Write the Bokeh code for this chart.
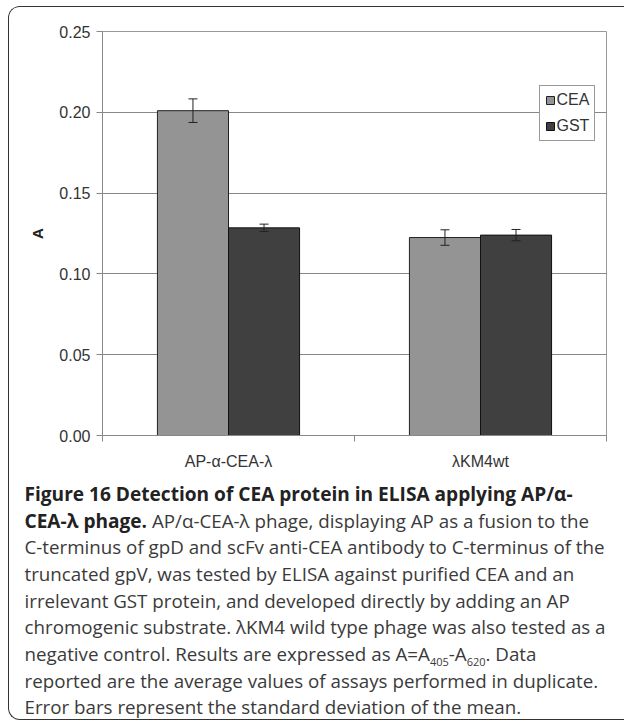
from bokeh.plotting import figure
from bokeh.layouts import column
from bokeh.models import (Range1d, LinearAxis, FixedTicker,
                          NumeralTickFormatter, ColumnDataSource, Whisker, TeeHead, Legend,
                          LegendItem, Div)
from bokeh.embed import file_html
from bokeh.resources import INLINE

# ---- data ----
categories = ["AP-α-CEA-λ", "λKM4wt"]
series = ["CEA", "GST"]
cea_values = [0.201, 0.1225]
gst_values = [0.1285, 0.124]
cea_errors = [0.0073, 0.0048]
gst_errors = [0.0023, 0.0035]
y_ticks = [0.00, 0.05, 0.10, 0.15, 0.20, 0.25]

caption_bold_1 = "Figure 16 Detection of CEA protein in ELISA applying AP/α-"
caption_bold_2 = "CEA-λ phage."
caption_rest_2 = "AP/α-CEA-λ phage, displaying AP as a fusion to the"
caption_lines = [
    "C-terminus of gpD and scFv anti-CEA antibody to C-terminus of the",
    "truncated gpV, was tested by ELISA against purified CEA and an",
    "irrelevant GST protein, and developed directly by adding an AP",
    "chromogenic substrate. λKM4 wild type phage was also tested as a",
]
caption_line7 = ["negative control. Results are expressed as A=A", "405", "-A", "620", ". Data"]
caption_tail = [
    "reported are the average values of assays performed in duplicate.",
    "Error bars represent the standard deviation of the mean.",
]

# category slots: category i occupies [i, i+1] on the x scale
n = len(categories)
centers = [i + 0.5 for i in range(n)]
off = 0.141
bw = 0.282

src = ColumnDataSource(dict(
    x_cea=[c - off for c in centers],
    x_gst=[c + off for c in centers],
    cea=cea_values,
    gst=gst_values,
    cea_up=[v + e for v, e in zip(cea_values, cea_errors)],
    cea_lo=[v - e for v, e in zip(cea_values, cea_errors)],
    gst_up=[v + e for v, e in zip(gst_values, gst_errors)],
    gst_lo=[v - e for v, e in zip(gst_values, gst_errors)],
))

# page geometry: content box starts at (OX, OY) inside a rounded frame
OX, OY = 9.5, 7.5
W = 615
H1, H2 = 470, 242
FL, FT, FW, FH = 93, 24, 504, 404
FR, FB = W - FL - FW, H1 - FT - FH
YMAX = 0.25

p = figure(width=W, height=H1, x_range=Range1d(0, n), y_range=Range1d(0, YMAX),
           output_backend="svg", toolbar_location=None,
           x_axis_location=None, y_axis_location="left",
           min_border_left=FL, min_border_right=FR, min_border_top=FT, min_border_bottom=FB)
p.outline_line_color = "#999999"
p.outline_line_width = 1
p.background_fill_color = "white"
p.border_fill_color = "white"

GREY = "#888888"

# y axis
yax = p.yaxis[0]
yax.ticker = FixedTicker(ticks=y_ticks)
yax.formatter = NumeralTickFormatter(format="0.00")
yax.major_label_text_font = "Liberation Sans"
yax.major_label_text_font_size = "16px"
yax.major_label_text_color = "#333333"
yax.major_tick_out = 6
yax.major_tick_in = 0
yax.major_tick_line_color = GREY
yax.minor_tick_line_color = None
yax.axis_line_color = GREY
yax.major_label_standoff = 6
yax.axis_label = "A"
yax.axis_label_text_font = "Liberation Sans"
yax.axis_label_text_font_style = "bold"
yax.axis_label_text_font_size = "15px"
yax.axis_label_text_color = "#222222"
yax.axis_label_standoff = 10

p.ygrid.ticker = FixedTicker(ticks=y_ticks)
p.ygrid.grid_line_color = GREY
p.ygrid.grid_line_width = 1
for g in p.xgrid:
    g.visible = False

# x axes: tick marks at category edges, then category labels at centres
edge_ticks = list(range(n + 1))
tick_axis = LinearAxis(ticker=FixedTicker(ticks=edge_ticks),
                       major_label_overrides={t: "" for t in edge_ticks},
                       major_label_text_font_size="1px", major_label_standoff=0,
                       major_tick_out=6, major_tick_in=0, major_tick_line_color=GREY,
                       minor_tick_line_color=None, axis_line_color=GREY)
p.add_layout(tick_axis, "below")
cat_axis = LinearAxis(ticker=FixedTicker(ticks=centers),
                      major_label_overrides={c: t for c, t in zip(centers, categories)},
                      axis_line_color=None, major_tick_line_color=None,
                      minor_tick_line_color=None,
                      major_label_text_font="Liberation Sans",
                      major_label_text_font_size="16px",
                      major_label_text_color="#333333",
                      major_label_standoff=5)
p.add_layout(cat_axis, "below")

# bars
cea_r = p.vbar(x="x_cea", top="cea", width=bw, source=src,
               fill_color="#949494", line_color="#222222", line_width=1)
gst_r = p.vbar(x="x_gst", top="gst", width=bw, source=src,
               fill_color="#404040", line_color="#111111", line_width=1)

for xb, up, lo in [("x_cea", "cea_up", "cea_lo"), ("x_gst", "gst_up", "gst_lo")]:
    p.add_layout(Whisker(source=src, base=xb, upper=up, lower=lo, level="overlay",
                         line_color="#222222", line_width=1,
                         upper_head=TeeHead(size=9, line_color="#222222", line_width=1),
                         lower_head=TeeHead(size=9, line_color="#222222", line_width=1)))

legend = Legend(items=[LegendItem(label=series[0], renderers=[cea_r]),
                       LegendItem(label=series[1], renderers=[gst_r])],
                location=(539 - OX - FL, FT + FH - (141 - OY)),
                label_text_font="Liberation Sans", label_text_font_size="16px",
                label_text_color="#333333",
                glyph_width=10, glyph_height=10, label_standoff=2, label_height=18,
                spacing=8, padding=5, margin=0,
                border_line_color="#333333", border_line_width=1.5,
                background_fill_color="white", background_fill_alpha=1)
p.add_layout(legend)

# ---- caption (HTML text block) ----
BOLD = '<b style="color:#222222;font-weight:700;font-size:19.1px">{}</b>'
SUB = '<span style="font-size:11px;line-height:0;vertical-align:-4.5px">{}</span>'
l7 = caption_line7
caption_html = (
    '<div style="font-family:\'Open Sans\',sans-serif;font-size:18.75px;line-height:26.67px;'
    'color:#3a3a3a;white-space:nowrap;padding-left:15.5px;padding-top:4px;margin:0">'
    + BOLD.format(caption_bold_1) + '<br>'
    + BOLD.format(caption_bold_2) + ' ' + caption_rest_2 + '<br>'
    + '<br>'.join(caption_lines) + '<br>'
    + l7[0] + SUB.format(l7[1]) + l7[2] + SUB.format(l7[3]) + l7[4] + '<br>'
    + '<br>'.join(caption_tail)
    + '</div>'
)
cap = Div(text=caption_html, width=W, height=H2, margin=0)

layout = column(p, cap, spacing=0, styles={
    "margin-left": "8px", "margin-top": "6px",
    "border-left": "1.5px solid #333333", "border-top": "1.5px solid #333333",
    "border-bottom": "1.5px solid #333333",
    "border-top-left-radius": "12px", "border-bottom-left-radius": "12px",
    "overflow": "hidden",
})

open("out.html", "w").write(file_html(layout, INLINE))
